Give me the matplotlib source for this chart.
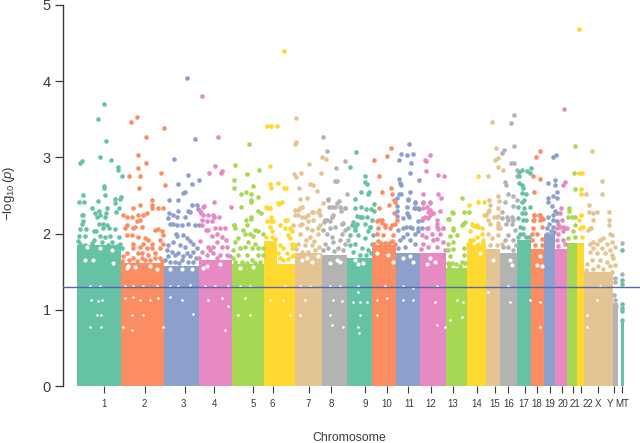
import matplotlib
matplotlib.use('Agg')
import matplotlib.pyplot as plt

plt.rcParams['font.family'] = ['Liberation Sans', 'DejaVu Sans']
plt.rcParams['mathtext.fontset'] = 'custom'
plt.rcParams['mathtext.rm'] = 'Liberation Sans'
plt.rcParams['mathtext.it'] = 'Liberation Sans:italic'

# chromosome layout on the position axis
chrom_names = ['1', '2', '3', '4', '5', '6', '7', '8', '9', '10', '11', '12', '13',
               '14', '15', '16', '17', '18', '19', '20', '21', '22', 'X', 'Y', 'MT']
chrom_start = [77, 121, 164, 198.5, 232, 263.5, 295, 322, 347, 372, 396, 420, 446,
               466.5, 486, 500, 517, 531, 544, 555, 567, 576.5, 584, 613, 620.5]
chrom_end = [121, 164, 198.5, 232, 263.5, 295, 322, 347, 372, 396, 420, 446, 466.5,
             486, 500, 517, 531, 544, 555, 567, 576.5, 584, 613, 617.5, 623.5]
# height under which the points merge into a solid block
chrom_solid = [1.85, 1.62, 1.58, 1.65, 1.6, 1.6, 1.75, 1.72, 1.68, 1.85, 1.75, 1.75, 1.55,
               1.85, 1.8, 1.75, 1.92, 1.8, 2.0, 1.8, 1.88, 1.88, 1.5, 1.09, 0.85]
tick_pos = [104, 145, 185, 214, 253, 273, 309, 331, 365, 387, 408, 431, 452.5,
            477, 494.5, 508, 524.5, 537, 549.5, 562, 573, 581, 598, 614, 622]
label_pos = [104.5, 144, 183.5, 214, 253.5, 272.5, 308, 331, 365.5, 387, 409, 431, 453,
             477, 494.5, 509, 524, 537, 550, 563, 575, 588, 598, 610, 622]

chr6_peak = (263.5, 277, 1.9)

chr1 = [(80.3, 2.92), (81.7, 2.95), (98, 3.51), (104.3, 3.70), (106, 3.21), (99.7, 3.0), (110.7, 2.97),
        (117.5, 2.87), (118, 2.84), (121.7, 2.75), (104.3, 2.63), (104.3, 2.60), (105, 2.51), (82.7, 2.51),
        (79.3, 2.41), (84, 2.41), (98.3, 2.43), (115, 2.46), (120.7, 2.48), (120, 2.45), (115, 2.40),
        (119.3, 2.34), (116, 2.29), (91.7, 2.33), (81.7, 2.24), (83.3, 2.25), (99.3, 2.30), (100, 2.24),
        (95, 2.27), (105, 2.22), (107.3, 2.33), (106, 2.27), (96.7, 2.22), (83.3, 2.16), (81.7, 2.12),
        (80, 2.06), (85.7, 2.06), (79, 1.97), (85, 1.97), (99.3, 2.12), (103.3, 2.13), (107.3, 2.11),
        (109.3, 2.07), (103.3, 2.07), (94, 2.03), (96, 2.03), (115, 2.06), (100, 1.97), (105, 1.96),
        (110, 1.97), (119.3, 1.95), (80, 1.87), (85, 1.85), (90, 1.83), (94, 1.92), (101.7, 1.89),
        (111.7, 1.89), (120, 1.87), (98.3, 1.82), (106.7, 1.81), (115, 1.81), (121.7, 1.81), (78, 1.9),
        (88, 1.78), (92, 1.88), (108, 1.85), (117, 1.84)]
chr2 = [(130.7, 3.46), (137, 3.53), (163.7, 3.38), (145.7, 3.27), (138, 3.03), (145.7, 2.93), (138, 2.86),
        (129.3, 2.76), (139.7, 2.75), (160.7, 2.80), (165.3, 2.64), (139, 2.60), (139.7, 2.38), (132.7, 2.34),
        (152, 2.44), (152, 2.38), (152, 2.33), (158.3, 2.34), (163, 2.33), (123.3, 2.25), (126.7, 2.22),
        (131.7, 2.22), (138.3, 2.24), (142.7, 2.24), (147.3, 2.27), (140, 2.18), (136.7, 2.16), (135, 2.09),
        (141.7, 2.09), (126.7, 2.11), (125, 2.07), (133.3, 2.07), (155, 2.05), (158.3, 2.06), (161.7, 2.03),
        (162.7, 1.98), (126.7, 1.98), (131.7, 1.98), (138.3, 1.96), (145, 1.94), (143.3, 1.87), (148.3, 1.92),
        (151.7, 1.87), (133.3, 1.87), (140, 1.83), (133.3, 1.81), (146.7, 1.81), (151.7, 1.81), (160, 1.92),
        (160, 1.81), (163.3, 1.87), (126.7, 1.75), (138.3, 1.75), (141.7, 1.74), (155, 1.74), (123.3, 1.70),
        (133.3, 1.68), (145, 1.65), (155, 1.68), (160, 1.68), (129, 1.66), (137, 1.64), (150, 1.66), (122, 1.64),
        (142, 1.68), (162, 1.64), (148, 1.72)]
chr3 = [(187, 4.04), (195, 3.24), (173.7, 2.98), (187.7, 2.77), (178.3, 2.65), (191.7, 2.65), (199.3, 2.70),
        (182.7, 2.53), (185.3, 2.55), (169, 2.44), (178.3, 2.44), (191.7, 2.38), (196.7, 2.38), (188.3, 2.30),
        (178.3, 2.30), (197.7, 2.32), (169.3, 2.27), (173.3, 2.24), (176.7, 2.22), (168.3, 2.20), (185, 2.22),
        (190, 2.29), (170, 2.13), (173.3, 2.13), (176.7, 2.11), (181.7, 2.11), (187.7, 2.13), (195, 2.11),
        (199.3, 2.11), (176, 2.0), (177.3, 1.97), (183.3, 1.98), (186.7, 1.94), (190, 1.90), (193.3, 1.87),
        (173.3, 1.89), (168.3, 1.85), (180, 1.85), (185, 1.83), (166.7, 1.78), (171.7, 1.76), (178.3, 1.74),
        (186.7, 1.74), (193.3, 1.76), (196.7, 1.81), (170, 1.63), (175, 1.63), (181.7, 1.65), (188.3, 1.63),
        (193.3, 1.63), (168, 1.7), (175, 1.72), (183, 1.7), (190, 1.7), (196, 1.68), (179, 1.62), (165, 1.65)]
chr4 = [(201.7, 3.80), (217.7, 3.27), (215, 2.89), (209, 2.80), (220.7, 2.80), (221.7, 2.82), (213.7, 2.42),
        (204, 2.36), (230.7, 2.35), (200, 2.30), (203.3, 2.35), (200.7, 2.27), (203.3, 2.24), (208.3, 2.24),
        (213.3, 2.24), (219.3, 2.22), (201.7, 2.18), (206.7, 2.16), (211.7, 2.16), (214, 2.22), (201.7, 2.11),
        (208.3, 2.05), (215, 2.07), (220, 2.07), (225, 2.07), (216.7, 2.0), (211.7, 1.97), (206, 2.05),
        (221.7, 1.96), (226, 1.92), (200, 1.90), (216.7, 1.89), (208.3, 1.83), (213.3, 1.83), (221.7, 1.83),
        (226.7, 1.83), (201.7, 1.76), (206.7, 1.72), (213.3, 1.74), (220, 1.72), (226.7, 1.72), (210, 1.78),
        (230, 1.7), (217, 1.68), (199, 1.68)]
chr5 = [(248.7, 3.17), (234.7, 2.90), (247.3, 2.78), (259, 2.84), (234, 2.70), (234, 2.60), (252.7, 2.62),
        (241, 2.52), (245.7, 2.54), (250.7, 2.52), (258, 2.48), (250.7, 2.44), (250.7, 2.41), (241, 2.35),
        (258, 2.30), (260.7, 2.27), (250.7, 2.22), (245.7, 2.18), (250.7, 2.19), (234.3, 2.11), (246.7, 2.11),
        (234, 2.11), (235, 2.07), (243.3, 2.05), (245, 2.0), (250, 2.0), (255, 2.05), (258.3, 2.03),
        (253.3, 1.97), (263, 1.99), (238.3, 1.94), (235, 1.89), (248.3, 1.89), (255, 1.87), (245, 1.83),
        (233.3, 1.78), (240, 1.81), (251.7, 1.81), (258.3, 1.81), (263, 1.81), (238.3, 1.72), (246.7, 1.72),
        (258.3, 1.72), (251.7, 1.65), (263, 1.72), (235, 1.63), (241.7, 1.63), (260, 1.63), (246.7, 1.62),
        (255, 1.62), (233, 1.68)]
chr6 = [(284.3, 4.39), (267.3, 3.41), (270.7, 3.41), (276.7, 3.41), (270.3, 2.89), (270, 2.65), (271, 2.60),
        (278.3, 2.67), (284, 2.60), (286, 2.60), (281.7, 2.42), (279.3, 2.39), (266.7, 2.33), (270, 2.34),
        (266, 2.35), (270, 2.33), (270.7, 2.22), (270.7, 2.16), (266.7, 2.16), (273.3, 2.16), (278.3, 2.40),
        (285, 2.18), (286.7, 2.18), (280, 2.11), (285, 2.07), (290, 2.07), (291.7, 2.03), (288.3, 1.98),
        (290, 1.94), (291.7, 1.87), (295, 1.85), (270, 2.09), (271.7, 2.03), (271.7, 1.96), (280, 1.85),
        (283.3, 1.81), (286.7, 1.74), (291.7, 1.81), (280, 1.68), (288, 1.67), (292, 1.7), (283, 1.65),
        (266, 1.95), (275, 1.93), (278, 1.75), (294, 1.72)]
chr7 = [(296.3, 3.52), (295, 3.18), (296.3, 3.20), (308.7, 2.91), (294, 2.78), (296.3, 2.74), (301, 2.79),
        (310, 2.65), (312.7, 2.64), (316.7, 2.56), (298.7, 2.60), (300, 2.46), (306.7, 2.47), (301.7, 2.35),
        (295, 2.31), (297.7, 2.31), (313.3, 2.29), (319, 2.31), (320.7, 2.79), (321.7, 3.0), (326, 2.98),
        (322.7, 2.40), (295, 2.24), (300, 2.33), (298.3, 2.24), (301.7, 2.22), (305, 2.22), (308.3, 2.24),
        (311.7, 2.29), (313.3, 2.18), (318.3, 2.29), (320, 2.24), (308.3, 2.16), (301.7, 2.13), (293.3, 2.11),
        (300, 2.11), (306.7, 2.07), (311.7, 2.05), (318.3, 2.07), (320, 2.11), (300, 2.0), (310, 1.96),
        (318.3, 2.0), (298.3, 1.87), (305, 1.85), (311.7, 1.85), (301.7, 1.76), (308.3, 1.76), (315, 1.78),
        (296, 1.8), (319, 1.82), (306, 1.92), (314, 1.9)]
chr8 = [(323.3, 3.27), (326.7, 3.09), (344.7, 2.95), (336, 2.86), (334.7, 2.69), (337.3, 2.69), (346.7, 2.52),
        (327.7, 2.44), (339, 2.43), (337.3, 2.40), (329, 2.35), (334.7, 2.35), (345, 2.34), (340.7, 2.30),
        (332.3, 2.22), (327.3, 2.18), (324, 2.15), (342.7, 2.14), (330, 2.07), (348, 2.07), (328.3, 2.45),
        (331.7, 2.35), (340, 2.35), (345, 2.33), (333.3, 2.24), (330, 2.16), (325, 2.18), (323.3, 2.05),
        (335, 2.09), (341.7, 2.13), (326.7, 2.0), (331.7, 1.96), (345, 2.05), (341.7, 2.0), (325, 1.87),
        (333.3, 1.89), (340, 1.92), (348.3, 1.92), (328.3, 1.81), (338.3, 1.81), (345, 1.87), (323, 1.78),
        (334, 1.77), (343, 1.78)]
chr9 = [(356.3, 3.07), (350.3, 2.87), (365, 2.75), (365, 2.68), (367, 2.65), (369.3, 2.55), (367.7, 2.52),
        (361.3, 2.54), (373.7, 2.39), (355, 2.45), (355, 2.33), (360.7, 2.35), (366, 2.32), (370.7, 2.32),
        (374, 2.30), (356.7, 2.23), (353.3, 2.15), (361.7, 2.22), (366.7, 2.22), (371.7, 2.18), (355, 2.09),
        (370, 2.09), (360, 2.22), (351.7, 2.11), (356.7, 2.13), (365, 2.13), (370, 2.09), (355, 2.05),
        (350, 1.98), (358.3, 1.98), (368.3, 2.03), (373.3, 1.98), (355, 1.87), (365, 1.94), (371.7, 1.87),
        (361.7, 1.81), (368.3, 1.78), (350, 1.85), (353, 1.76), (360, 1.72), (366, 1.72), (371, 1.75)]
chr10 = [(390.7, 3.12), (387, 3.02), (374.3, 2.97), (379, 2.75), (391, 2.6), (381.7, 2.55), (391.7, 2.52),
         (379.3, 2.34), (394, 2.44), (395, 2.41), (389.3, 2.37), (394, 2.27), (379.3, 2.18), (396.7, 2.18),
         (381.7, 2.14), (391.7, 2.11), (385, 2.09), (376.7, 2.16), (381.7, 2.18), (385, 2.11), (378.3, 2.07),
         (390, 2.07), (395, 2.13), (376.7, 2.0), (383.3, 1.98), (393.3, 1.98), (378, 1.9), (385, 1.88), (392, 1.9),
         (374, 1.87), (381, 1.88), (389, 1.88), (395, 1.87)]
chr11 = [(409, 3.17), (401, 3.05), (412.7, 3.05), (407.3, 3.03), (398.7, 2.97), (411, 2.92), (410.3, 2.8),
         (419, 2.7), (398.7, 2.72), (400, 2.67), (401, 2.64), (398.7, 2.52), (401, 2.52), (410.3, 2.55),
         (397.3, 2.47), (408, 2.45), (415, 2.41), (415, 2.33), (419, 2.32), (397.3, 2.36), (397.3, 2.30),
         (407.3, 2.35), (407.3, 2.27), (409.3, 2.22), (397.3, 2.23), (406, 2.09), (411.7, 2.08), (418.3, 2.07),
         (408.3, 2.44), (415, 2.40), (414, 2.33), (418.3, 2.33), (408.3, 2.24), (403.3, 2.2), (410, 2.09),
         (398.3, 2.05), (403.3, 2.07), (418.3, 2.16), (421.7, 2.18), (415, 2.0), (406.7, 2.0), (400, 1.92),
         (410, 1.92), (398.3, 1.81), (405, 1.83), (415, 1.87), (418.3, 2.03), (421.7, 2.07), (403, 1.95)]
chr12 = [(430, 3.03), (425.3, 2.96), (426, 2.95), (426, 2.82), (438.3, 2.77), (444, 2.75), (437.7, 2.52),
         (441, 2.47), (423, 2.52), (423, 2.41), (430, 2.41), (426.7, 2.35), (423.3, 2.33), (430, 2.31),
         (433.3, 2.27), (440, 2.30), (423.3, 2.20), (428.3, 2.20), (437.3, 2.18), (437.3, 2.13), (443.3, 2.07),
         (428.3, 2.08), (438.3, 2.06), (423.3, 2.40), (428.3, 2.29), (430, 2.4), (433.3, 2.27), (425, 2.22),
         (430, 2.24), (436.7, 2.09), (443.3, 2.07), (426.7, 2.07), (421.7, 1.98), (431.7, 2.0), (440, 2.0),
         (423.3, 1.87), (433.3, 1.92), (443.3, 1.89), (428.3, 1.83), (436.7, 1.83), (445, 1.78), (421, 1.8),
         (426, 1.95), (437, 1.93)]
chr13 = [(461.7, 2.47), (452.3, 2.28), (449, 2.19), (464.3, 2.29), (469, 2.29), (463.3, 2.13), (461.7, 2.11),
         (452.7, 2.07), (452.7, 2.27), (448.3, 2.19), (465, 2.15), (453.3, 2.05), (450, 1.97), (456.7, 1.98),
         (464, 1.81), (464, 1.72), (448.3, 1.87), (453.3, 1.89), (461.7, 1.63), (448.3, 1.78),
         (450, 1.7), (453, 1.8), (448, 1.62), (452, 1.62), (456, 1.6), (449, 1.58), (460, 1.58), (465, 1.62)]
chr14 = [(478.3, 2.75), (469, 2.38), (478.3, 2.41), (483.7, 2.42), (484, 2.24), (471.7, 2.12), (475, 2.10),
         (478.3, 2.09), (473, 2.11), (476.7, 2.11), (481.7, 2.07), (470, 2.03), (481.7, 2.0), (470, 1.92),
         (476.7, 1.96), (473.3, 1.92), (483.3, 1.92), (470, 1.88), (478.3, 1.87), (483.3, 1.88), (468.3, 1.86)]
chr15 = [(491.7, 3.47), (496.3, 3.12), (497.7, 2.99), (495, 2.96), (497.7, 2.88), (502.7, 2.84), (487.7, 2.76),
         (497.7, 2.49), (499, 2.43), (489.3, 2.44), (490, 2.38), (498.3, 2.33), (488.3, 2.29), (486, 2.24),
         (494, 2.22), (498.3, 2.23), (488.3, 2.18), (490, 2.13), (498.3, 2.14), (498.3, 2.07), (489, 2.31),
         (496.7, 2.22), (498.3, 2.11), (500, 2.07), (488.3, 2.0), (498.3, 1.98), (491.7, 1.94), (490, 1.85),
         (496.7, 1.85), (501.7, 1.87)]
chr16 = [(514.3, 3.56), (511, 3.45), (514.3, 3.15), (504, 3.10), (502, 3.06), (511, 2.93), (514.3, 2.93),
         (516.7, 2.84), (516.7, 2.76), (505, 2.68), (505.7, 2.64), (507.7, 2.52), (513.3, 2.49), (505, 2.42),
         (516.7, 2.44), (512.7, 2.36), (502.3, 2.28), (506.7, 2.22), (512.3, 2.22), (508.3, 2.18), (513.3, 2.18),
         (502.3, 2.20), (506, 2.13), (511.7, 2.13), (515, 2.05), (508.3, 1.98), (505, 1.92), (513.3, 1.92),
         (508.3, 1.83), (513.3, 1.78), (503, 1.82), (516, 1.85)]
chr17 = [(519.3, 2.81), (521.7, 2.83), (526.7, 2.82), (531, 2.86), (530, 2.80), (519, 2.75), (519, 2.67),
         (521.7, 2.64), (523.3, 2.60), (521.7, 2.53), (526, 2.52), (524, 2.44), (521.7, 2.41), (518.3, 2.35),
         (530, 2.35), (524, 2.33), (521.7, 2.27), (525, 2.27), (518.3, 2.20), (523.3, 2.18), (526, 2.18),
         (520, 2.09), (523.3, 2.07), (520, 2.0), (523.3, 2.0), (526, 1.96), (529, 1.95), (518, 1.96)]
chr18 = [(540, 3.09), (536, 3.0), (533, 2.75), (540, 2.72), (533.7, 2.55), (533.7, 2.25), (539.3, 2.25),
         (541.7, 2.20), (533.3, 2.18), (541.7, 2.09), (533.3, 2.07), (534, 2.24), (534, 2.18), (540, 2.25),
         (540, 2.18), (543.3, 2.19), (531.7, 2.0), (536.7, 2.0), (531.7, 1.92), (541.7, 1.93), (535, 1.85),
         (541.7, 1.85)]
chr19 = [(556, 3.03), (552.7, 3.0), (548.3, 2.66), (555, 2.70), (555, 2.64), (556.7, 2.55), (548.3, 2.47),
         (553.3, 2.49), (548.3, 2.41), (551.7, 2.36), (556.7, 2.47), (555, 2.30), (548.3, 2.22), (553.3, 2.25),
         (556.7, 2.27), (553.3, 2.18), (556.7, 2.16), (546.7, 2.08), (553.3, 2.09), (549, 2.13), (551, 2.03),
         (547, 2.0), (554, 2.02)]
chr20 = [(564.3, 3.64), (565, 2.68), (563.3, 2.64), (560.7, 2.33), (560, 2.27), (561.7, 2.18), (560, 2.09),
         (565, 2.07), (558.3, 2.13), (556.7, 2.07), (563.3, 2.09), (566.7, 2.07), (558.3, 2.0), (563.3, 2.03),
         (556.7, 1.92), (563.3, 1.92), (558, 1.84), (565, 1.86)]
chr21 = [(575.3, 3.15), (573.7, 2.8), (575.3, 2.59), (569.3, 2.33), (569.3, 2.30), (568.3, 2.22), (571.7, 2.22),
         (575, 2.22), (575, 2.11), (573.3, 2.03), (575, 1.96), (568, 1.94)]
chr22 = [(579.3, 4.69), (579, 2.80), (581.7, 2.80), (580.7, 2.59), (581, 2.52), (580.7, 2.24), (579.3, 2.18),
         (581.7, 2.09), (581, 2.24), (583.3, 2.09), (580, 2.07), (581.7, 1.96)]
chrX = [(591.7, 3.09), (602.3, 2.69), (602.3, 2.52), (586, 2.52), (589.3, 2.38), (588.7, 2.28), (592.7, 2.27),
        (596.7, 2.28), (608.7, 2.28), (593.3, 2.18), (608.7, 2.18), (608.7, 2.11), (590.7, 2.08), (590, 2.07),
        (588.3, 2.05), (610, 2.0), (611.7, 1.98), (603.3, 1.94), (593.3, 1.89), (590, 1.87), (596.7, 1.87),
        (600, 1.92), (606.7, 1.87), (611.7, 1.89), (615, 1.83), (593.3, 1.81), (601.7, 1.81), (610, 1.78),
        (590, 1.76), (596.7, 1.74), (605, 1.74), (611.7, 1.72), (600, 1.65), (591.7, 1.65), (606.7, 1.63),
        (613.3, 1.68), (598.3, 1.57), (603.3, 1.54), (593.3, 1.54), (610, 1.57), (615, 1.59), (587, 1.6),
        (586, 1.52), (612, 1.5)]
chrY = [(621.7, 1.88), (621.7, 1.47), (614.5, 1.42), (614.5, 1.36), (614, 1.2), (615, 1.13), (616, 1.05)]
chrMT = [(621.7, 1.78), (621.7, 1.39), (621.7, 1.34), (621.7, 1.08), (621.7, 1.03), (621.7, 0.98), (621.7, 0.87)]
chrom_points = [chr1, chr2, chr3, chr4, chr5, chr6, chr7, chr8, chr9, chr10, chr11, chr12, chr13,
                chr14, chr15, chr16, chr17, chr18, chr19, chr20, chr21, chr22, chrX, chrY, chrMT]

# places where no SNP falls inside the solid blocks
gap_pos = [90, 100, 91, 98, 102, 97, 101, 90, 101,
           125, 133, 143, 157, 125, 133, 140, 150, 158, 132, 143, 123, 132, 163,
           170, 178, 190, 170, 182, 193, 205, 215, 228, 208, 222, 228, 225,
           240, 250, 245, 238, 250, 285, 283, 270, 290, 300, 310, 305, 300,
           330, 340, 333, 342, 330, 332, 343, 358, 358, 360, 360, 358, 359, 353, 367,
           385, 377, 387, 377, 403, 413, 403, 413, 437, 435, 437, 445,
           457, 462, 463, 450, 488, 510, 508, 530, 540, 540, 597, 587, 587, 600]
gap_logp = [1.31, 1.31, 1.13, 1.12, 1.13, 0.93, 0.93, 0.78, 0.78,
            1.31, 1.31, 1.31, 1.31, 1.15, 1.17, 1.13, 1.13, 1.15, 0.93, 0.93, 0.78, 0.73, 0.78,
            1.31, 1.31, 1.33, 1.17, 1.13, 0.94, 1.31, 1.31, 1.31, 1.13, 1.15, 1.05, 0.73,
            1.31, 1.31, 1.15, 0.93, 0.93, 1.31, 1.13, 1.13, 0.93, 1.31, 1.31, 1.13, 0.93,
            1.31, 1.31, 1.13, 1.12, 0.93, 0.8, 0.78, 1.31, 1.24, 1.1, 0.93, 0.78, 0.69, 1.1, 1.1,
            1.31, 1.13, 1.15, 0.93, 1.31, 1.28, 1.13, 1.13, 1.31, 1.1, 0.8, 0.78,
            1.13, 0.91, 1.1, 0.87, 1.24, 1.1, 1.31, 1.13, 0.78, 1.1, 1.13, 0.93, 0.78, 1.31]
# bigger holes in the loose band above the threshold
hole_pos = [93.3, 85, 100, 86.7, 111.7, 113.3, 135, 128.3, 150, 126.7, 156.7, 170, 181.7, 191.7,
            206.7, 220, 203, 240, 253, 301.7, 311.7, 318, 306.7, 330, 340, 336.7, 358.3, 363.3, 355,
            388.3, 376.7, 393, 403, 413, 410, 430, 435, 426.7, 480, 493, 510, 511.7, 540, 536.7, 541.7]
hole_logp = [1.65, 1.65, 1.81, 1.83, 1.78, 1.61, 1.56, 1.58, 1.58, 1.55, 1.54, 1.54, 1.53, 1.54,
             1.58, 1.6, 1.55, 1.55, 1.56, 1.65, 1.63, 1.70, 1.68, 1.62, 1.63, 1.66, 1.6, 1.61, 1.65,
             1.72, 1.74, 1.63, 1.68, 1.63, 1.7, 1.68, 1.63, 1.6, 1.74, 1.65, 1.65, 1.59, 1.7, 1.59, 1.57]

threshold = 1.30
palette = ['#66C2A5', '#FC8D62', '#8DA0CB', '#E78AC3', '#A6D854', '#FFD92F', '#E5C494', '#B3B3B3']
text_col = '#3a3a3a'

fig = plt.figure(figsize=(6.4, 4.43), dpi=100)
ax = fig.add_axes([62.5/640, (443-386)/443, (640-62.5)/640, (386-5)/443])

for i, name in enumerate(chrom_names):
    col = palette[i % 8]
    ax.bar(chrom_start[i], chrom_solid[i], width=chrom_end[i]-chrom_start[i], align='edge',
           color=col, linewidth=0, zorder=1)
    xs = [p[0] for p in chrom_points[i]]
    ys = [p[1] for p in chrom_points[i]]
    ax.scatter(xs, ys, s=11, color=col, linewidths=0, zorder=2, clip_on=False)

ax.bar(chr6_peak[0], chr6_peak[2], width=chr6_peak[1]-chr6_peak[0], align='edge',
       color=palette[5], linewidth=0, zorder=1)
ax.scatter(gap_pos, gap_logp, s=3.5, color='white', linewidths=0, zorder=3)
ax.scatter(hole_pos, hole_logp, s=9, color='white', linewidths=0, zorder=3)
ax.axhline(threshold, color='#5468ab', lw=1.0, zorder=4)

ax.set_xlim(62.5, 640)
ax.set_ylim(0, 5)
for side in ['top', 'right', 'bottom']:
    ax.spines[side].set_visible(False)
ax.spines['left'].set_color(text_col)
ax.spines['left'].set_linewidth(1.0)
ax.set_yticks([0, 1, 2, 3, 4, 5])
ax.tick_params(axis='y', length=5.5, width=0.9, color=text_col, labelcolor=text_col, labelsize=10.5, pad=3)
ax.set_xticks(tick_pos)
ax.set_xticklabels([])
ax.tick_params(axis='x', length=5, width=0.8, color=text_col)
for lab, x in zip(chrom_names, label_pos):
    ax.annotate(lab, (x, 0), xytext=(0, -13.3), textcoords='offset points', ha='center', va='center',
                fontsize=7, color=text_col)

fig.text(349/640, 1-438/443, 'Chromosome', ha='center', va='center', fontsize=8.8, color=text_col)
fig.text(9/640, 1-193/443, r'$-\log_{10}(p)$', ha='center', va='center', rotation=90,
         fontsize=9.5, color=text_col)

fig.savefig('out.png', dpi=100)
